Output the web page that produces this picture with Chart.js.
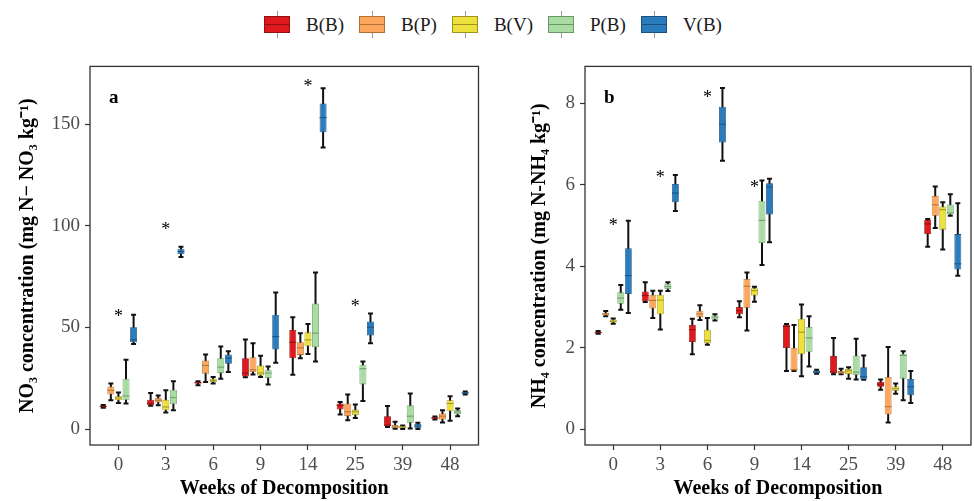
<!DOCTYPE html>
<html>
<head>
<meta charset="utf-8">
<script src="https://cdn.jsdelivr.net/npm/chart.js@4.4.1/dist/chart.umd.min.js"></script>
<style>
  body { margin: 0; background: #fff; }
  #fig { position: relative; width: 974px; height: 501px; overflow: hidden; }
  #chartA { position: absolute; left: 0; top: 50px; }
  #chartB { position: absolute; left: 490px; top: 50px; }
  .legend { position: absolute; left: 264px; top: 0; height: 49px; display: flex; align-items: center;
            font-family: 'Liberation Serif', serif; font-size: 19px; color: #1a1a1a; }
  .key { position: relative; width: 26px; height: 17px; box-sizing: border-box; border: 1px solid; margin-right: 16px; }
  .key::before { content: ''; position: absolute; left: 12px; top: -6px; width: 1px; height: 27px; background: #999; z-index: -1; }
  .key::after { content: ''; position: absolute; left: 0; right: 0; top: 7px; height: 1px; background: currentColor; }
  .legend span.lbl { margin-right: 15px; }
</style>
</head>
<body>
<div id="fig">
  <div class="legend" id="legend"></div>
  <canvas id="chartA" width="490" height="451"></canvas>
  <canvas id="chartB" width="484" height="451"></canvas>
</div>
<script>
// ── Categories & series ──────────────────────────────────────────────────────
const weeks      = ['0', '3', '6', '9', '14', '25', '39', '48'];
const treatments = ['B(B)', 'B(P)', 'B(V)', 'P(B)', 'V(B)'];
const fills      = ['#e0191c', '#fca75d', '#eee13d', '#a9dca2', '#2b7cbd'];
const edges      = ['#8e1012', '#b07034', '#9c9322', '#6a9a66', '#1b5182'];

// five-number summaries per week: [min, q1, median, q3, max]
// ── NO3 (mg N-NO3 kg-1) ──
const no3BB = [[10.5,10.9,11.2,11.5,11.9],[11.5,11.7,12.6,14.5,17.8],[21.6,22.4,22.8,23.2,23.6],[25.5,25.9,27.6,34.9,44.1],
               [26.8,34.9,42.7,48.8,55.0],[7.2,9.6,11.7,12.6,13.4],[1.1,1.5,2.0,6.4,11.4],[4.8,5.1,5.5,5.9,6.2]];
const no3BP = [[14.2,17.0,19.1,21.0,22.4],[11.7,13.1,14.2,15.3,16.6],[23.2,27.3,31.3,33.8,36.7],[26.9,28.1,29.2,35.4,42.3],
               [34.9,36.5,40.0,42.7,47.2],[4.4,6.4,8.5,12.6,17.0],[0.2,0.5,1.1,2.0,3.6],[3.3,4.7,6.4,7.7,9.3]];
const no3BV = [[12.9,14.2,15.3,16.2,18.0],[8.2,9.3,10.9,14.5,19.1],[22.4,23.2,24.0,24.8,25.6],[25.6,26.4,27.6,31.3,36.1],
               [37.0,40.8,43.9,47.6,51.7],[5.5,6.9,8.5,9.6,12.1],[0.1,0.5,1.0,1.4,1.8],[4.1,8.8,12.6,14.2,16.2]];
const no3PB = [[12.6,14.2,16.3,24.8,34.1],[9.3,12.2,15.5,19.4,23.5],[24.8,27.6,30.5,34.9,40.6],[22.0,25.1,27.6,29.2,30.8],
               [33.3,40.3,47.2,61.8,77.0],[13.9,22.0,29.7,31.7,33.3],[0.3,3.1,6.4,11.7,17.5],[6.4,7.3,8.5,9.3,10.1]];
const no3VB = [[41.9,42.7,43.9,50.1,56.3],[84.7,86.0,87.3,88.7,89.7],[28.1,32.1,34.9,36.7,38.3],[32.6,39.2,45.5,56.3,67.2],
               [138.5,146.0,153.2,160.2,167.6],[42.3,46.0,50.1,53.0,56.9],[0.1,0.4,1.5,2.6,3.2],[17.0,17.4,17.8,18.1,18.5]];
const no3Ticks    = [0, 50, 100, 150];
const no3StarWeek = [0, 1, 4, 5];
const no3StarVal  = [57, 100, 170, 62];

// ── NH4 (mg N-NH4 kg-1) ──
const nh4BB = [[2.34,2.36,2.37,2.39,2.41],[3.12,3.14,3.28,3.38,3.61],[1.84,2.14,2.44,2.56,2.71],[2.75,2.82,2.91,3.00,3.14],
               [1.43,1.99,2.52,2.56,2.58],[1.35,1.37,1.40,1.80,2.24],[0.97,1.04,1.10,1.16,1.22],[4.48,4.79,5.04,5.14,5.16]];
const nh4BP = [[2.77,2.79,2.83,2.86,2.90],[2.73,2.96,3.16,3.30,3.40],[2.68,2.75,2.83,2.91,3.04],[2.42,2.98,3.51,3.69,3.85],
               [1.43,1.44,1.46,2.00,2.56],[1.35,1.36,1.40,1.43,1.48],[0.16,0.36,0.55,1.28,2.02],[4.94,5.24,5.51,5.73,5.96]];
const nh4BV = [[2.59,2.62,2.65,2.69,2.72],[2.45,2.82,3.17,3.30,3.40],[2.07,2.11,2.18,2.44,2.73],[3.13,3.28,3.40,3.46,3.50],
               [1.30,1.84,2.38,2.71,3.06],[1.24,1.35,1.43,1.48,1.52],[0.87,0.94,0.99,1.05,1.12],[4.41,4.90,5.39,5.47,5.57]];
const nh4PB = [[2.93,3.08,3.22,3.36,3.54],[3.39,3.44,3.50,3.57,3.61],[2.67,2.69,2.75,2.79,2.82],[4.03,4.57,5.13,5.61,6.11],
               [1.54,1.89,2.24,2.51,2.77],[1.22,1.33,1.40,1.81,2.22],[0.71,1.24,1.81,1.85,1.91],[5.24,5.27,5.31,5.52,5.77]];
const nh4VB = [[2.85,3.32,3.77,4.44,5.12],[5.36,5.57,5.80,6.02,6.24],[6.59,7.04,7.49,7.92,8.38],[4.59,5.27,5.95,6.04,6.15],
               [1.36,1.38,1.41,1.44,1.46],[1.21,1.22,1.29,1.52,1.81],[0.64,0.83,1.04,1.23,1.43],[3.77,3.92,4.06,4.79,5.55]];
const nh4Ticks    = [0, 2, 4, 6, 8];
const nh4StarWeek = [0, 1, 2, 3];
const nh4StarVal  = [5.08, 6.26, 8.22, 6.03];

const SERIF = "'Liberation Serif', 'Times New Roman', serif";

// ── Legend (html) ────────────────────────────────────────────────────────────
document.getElementById('legend').innerHTML = treatments.map((t, k) =>
  `<span class="key" style="background:${fills[k]};border-color:${edges[k]};color:${edges[k]}"></span><span class="lbl">${t}</span>`
).join('');

// ── Whiskers, medians, frame, panel letter, significance stars ───────────────
const boxDeco = {
  id: 'boxDeco',
  beforeDatasetsDraw(chart) {
    const { ctx } = chart, y = chart.scales.y;
    ctx.save();
    ctx.strokeStyle = '#111';
    ctx.lineWidth = 2;
    chart.data.datasets.forEach((ds, di) => {
      chart.getDatasetMeta(di).data.forEach((bar, i) => {
        const s = ds.stats[i];
        const top = y.getPixelForValue(s[4]), bot = y.getPixelForValue(s[0]);
        ctx.beginPath();
        ctx.moveTo(bar.x, top);       ctx.lineTo(bar.x, bot);
        ctx.moveTo(bar.x - 2.5, top); ctx.lineTo(bar.x + 2.5, top);
        ctx.moveTo(bar.x - 2.5, bot); ctx.lineTo(bar.x + 2.5, bot);
        ctx.stroke();
      });
    });
    ctx.restore();
  },
  afterDatasetsDraw(chart, args, opts) {
    const { ctx, chartArea: a } = chart, x = chart.scales.x, y = chart.scales.y;
    ctx.save();
    // medians
    ctx.lineWidth = 1;
    chart.data.datasets.forEach((ds, di) => {
      ctx.strokeStyle = ds.borderColor;
      chart.getDatasetMeta(di).data.forEach((bar, i) => {
        const ym = y.getPixelForValue(ds.stats[i][2]);
        ctx.beginPath();
        ctx.moveTo(bar.x - bar.width / 2, ym);
        ctx.lineTo(bar.x + bar.width / 2, ym);
        ctx.stroke();
      });
    });
    // panel border
    ctx.strokeStyle = '#333';
    ctx.lineWidth = 1.3;
    ctx.strokeRect(a.left, a.top, a.right - a.left, a.bottom - a.top);
    // letter
    ctx.fillStyle = '#000';
    ctx.font = `bold 19px ${SERIF}`;
    ctx.textAlign = 'left';
    ctx.textBaseline = 'alphabetic';
    ctx.fillText(opts.letter, a.left + 19, a.top + 37);
    // stars
    ctx.font = `18px ${SERIF}`;
    ctx.textAlign = 'center';
    opts.starWeek.forEach((w, i) => {
      ctx.fillText('*', x.getPixelForValue(w), y.getPixelForValue(opts.starVal[i]) + 9);
    });
    ctx.restore();
  }
};

function axisCommon() {
  return {
    grid:   { display: true, drawOnChartArea: false, drawTicks: true, tickLength: 5, tickColor: '#333', tickWidth: 1.2, offset: false },
    border: { display: false },
  };
}

function makePanel(el, p) {
  return new Chart(document.getElementById(el), {
    type: 'bar',
    data: {
      datasets: treatments.map((name, k) => ({
        label: name,
        stats: p.stats[k],
        data: p.stats[k].map((s, i) => ({ x: i, y: [s[1], s[3]] })),
        backgroundColor: fills[k],
        borderColor: edges[k],
        borderWidth: 0.8,
        borderSkipped: false,
        categoryPercentage: 0.8,
        barPercentage: 0.92
      }))
    },
    options: {
      responsive: false,
      animation: false,
      layout: { padding: { top: 15, right: p.padRight, left: 0, bottom: 0 } },
      plugins: {
        legend: { display: false },
        tooltip: { enabled: false },
        boxDeco: { letter: p.letter, starWeek: p.starWeek, starVal: p.starVal }
      },
      scales: {
        x: {
          ...axisCommon(),
          type: 'linear', offset: false,
          min: -0.6, max: weeks.length - 0.4,
          afterBuildTicks: s => { s.ticks = weeks.map((w, i) => ({ value: i })); },
          afterFit: s => { s.height = 56; },
          ticks: { padding: 4, color: '#4d4d4d', font: { family: SERIF, size: 19 }, autoSkip: false, maxRotation: 0,
                   callback: v => weeks[v] },
          title: { display: true, text: 'Weeks of Decomposition', color: '#000',
                   font: { family: SERIF, size: 20, weight: 'bold' }, padding: { top: 0, bottom: 0 } }
        },
        y: {
          ...axisCommon(),
          min: p.yMin, max: p.yMax,
          afterBuildTicks: s => { s.ticks = p.ticks.map(v => ({ value: v })); },
          afterFit: s => { s.width = p.axisWidth; },
          ticks: { padding: 5, color: '#4d4d4d', font: { family: SERIF, size: 19 }, callback: v => String(v) },
          title: { display: true, text: p.title, color: '#000',
                   font: { family: SERIF, size: 20, weight: 'bold' }, padding: { top: p.titlePad, bottom: 0 } }
        }
      }
    },
    plugins: [boxDeco]
  });
}

makePanel('chartA', {
  stats: [no3BB, no3BP, no3BV, no3PB, no3VB],
  ticks: no3Ticks, yMin: -7.8, yMax: 178.4,
  title: 'NO\u2083 concentration (mg N\u2212 NO\u2083 kg\u207B\u00B9)',
  titlePad: 16, axisWidth: 90, padRight: 11.5,
  letter: 'a', starWeek: no3StarWeek, starVal: no3StarVal
});

makePanel('chartB', {
  stats: [nh4BB, nh4BP, nh4BV, nh4PB, nh4VB],
  ticks: nh4Ticks, yMin: -0.39, yMax: 8.91,
  title: 'NH\u2084 concentration (mg N-NH\u2084 kg\u207B\u00B9)',
  titlePad: 38, axisWidth: 95, padRight: 3,
  letter: 'b', starWeek: nh4StarWeek, starVal: nh4StarVal
});
</script>
</body>
</html>
